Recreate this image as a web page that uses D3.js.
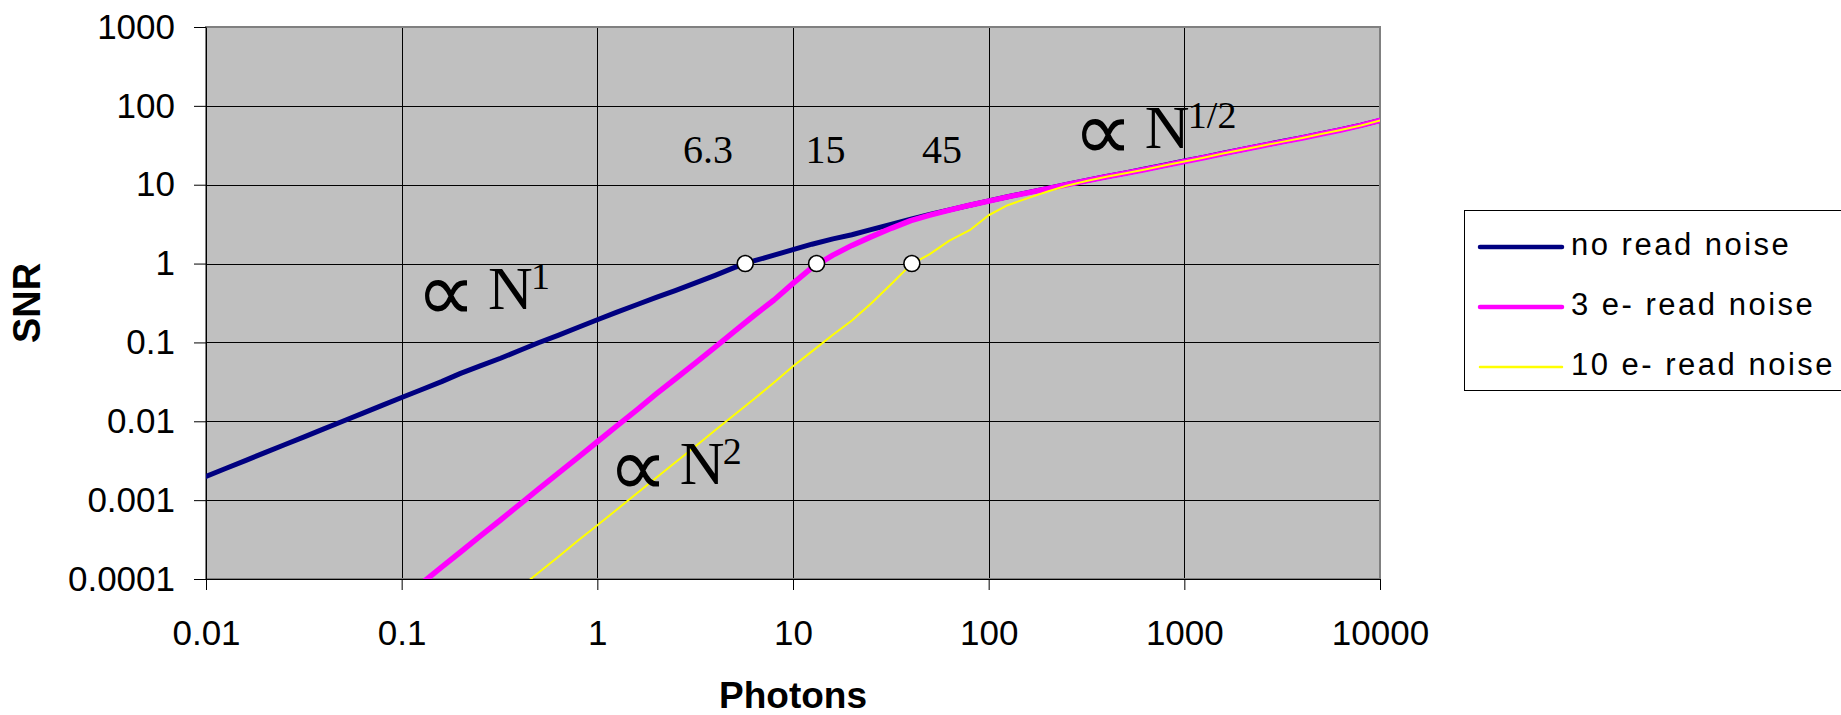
<!DOCTYPE html>
<html><head><meta charset="utf-8">
<script src="https://cdn.jsdelivr.net/npm/d3@7"></script>
<style>body{margin:0;background:#fff} svg{display:block}</style>
</head><body><svg id="c" width="1841" height="715"></svg>
<script>
// ---------- data ----------
const photons = [0.01,0.0125,0.016,0.02,0.025,0.032,0.04,0.05,0.063,0.08,
  0.1,0.125,0.16,0.2,0.25,0.32,0.4,0.5,0.63,0.8,
  1,1.25,1.6,2,2.5,3.2,4,5,6.3,8,
  10,12.5,16,20,25,32,40,50,63,80,
  100,125,160,200,250,320,400,500,630,800,
  1000,1250,1600,2000,2500,3200,4000,5000,6300,8000,10000];
const noReadNoise = [0.0020,0.0025,0.0032,0.0040,0.0050,0.0064,0.0080,0.0100,0.0126,0.0160,
  0.0200,0.0249,0.0318,0.0405,0.050,0.063,0.079,0.099,0.123,0.156,
  0.194,0.240,0.303,0.372,0.455,0.572,0.71,0.89,1.08,1.28,
  1.50,1.76,2.06,2.32,2.70,3.15,3.65,4.2,4.8,5.5,
  6.25,7.05,8.0,9.0,10.1,11.4,12.7,14.1,15.8,17.8,
  20.0,22.2,25.2,28.2,31.5,35.5,39.6,44.5,50,57,65.5];
const readNoise3 = [null,null,null,null,null,null,null,null,null,null,
  0.000055,0.000086,0.000141,0.00022,0.000344,0.00056,0.00088,0.00138,0.00218,0.00352,
  0.0055,0.0086,0.0141,0.0222,0.0344,0.056,0.087,0.137,0.218,0.345,
  0.56,0.89,1.28,1.70,2.18,2.82,3.5,4.12,4.76,5.5,
  6.2,7.0,7.95,8.9,10.0,11.3,12.6,14.0,15.6,17.6,
  19.7,22.0,25.0,28.0,31.2,35.2,39.2,44.0,49.5,56.5,65.5];
const readNoise10 = [null,null,null,null,null,null,null,null,null,null,
  null,null,null,null,null,null,0.000077,0.00012,0.00019,0.00031,
  0.00048,0.00075,0.00123,0.00192,0.0030,0.0049,0.0077,0.012,0.019,0.031,
  0.050,0.077,0.125,0.19,0.31,0.56,0.97,1.32,1.95,2.65,
  4.1,5.5,6.8,8.2,9.7,11.2,12.6,14.0,15.6,17.6,
  19.7,22.0,25.0,28.0,31.2,35.2,39.2,44.0,49.5,56.5,65.5];
const seriesNames = ["no read noise","3 e- read noise","10 e- read noise"];
const seriesColors = ["#000080","#ff00ff","#ffff00"];
const seriesWidths = [5,5.5,2];
const xTicks = [0.01,0.1,1,10,100,1000,10000];
const xTickLabels = ["0.01","0.1","1","10","100","1000","10000"];
const yTicks = [0.0001,0.001,0.01,0.1,1,10,100,1000];
const yTickLabels = ["0.0001","0.001","0.01","0.1","1","10","100","1000"];
const markerX = [5.7,13.2,40.5];
const markerY = [1,1,1];
const crossLabels = ["6.3","15","45"];
const crossLabelX = [2.74,11.6,45.6];
const crossLabelY = 18.7;
const powerLabels = [{exp:"1",x:0.133,y:0.264},{exp:"2",x:1.27,y:0.0016},{exp:"1/2",x:303,y:29}];

// ---------- layout ----------
const W=1841,H=715;
const m={left:206,right:1380,top:27,bottom:579};
const x=d3.scaleLog().domain([0.01,10000]).range([m.left,m.right]);
const y=d3.scaleLog().domain([0.0001,1000]).range([m.bottom,m.top]);
const svg=d3.select('#c');
const SANS='"Liberation Sans", Arial, sans-serif';
const SERIF='"Liberation Serif", "Times New Roman", serif';

svg.append('rect').attr('width',W).attr('height',H).attr('fill','#fff');
svg.append('rect').attr('x',m.left).attr('y',m.top).attr('width',m.right-m.left)
  .attr('height',m.bottom-m.top).attr('fill','#c0c0c0');

// gridlines
const grid=svg.append('g').attr('stroke','#000').attr('stroke-width',1).attr('shape-rendering','crispEdges');
grid.selectAll('.gy').data(yTicks.slice(1,-1)).join('line')
  .attr('x1',m.left).attr('x2',m.right).attr('y1',d=>Math.round(y(d))+0.5).attr('y2',d=>Math.round(y(d))+0.5);
grid.selectAll('.gx').data(xTicks.slice(1,-1)).join('line')
  .attr('y1',m.top).attr('y2',m.bottom).attr('x1',d=>Math.round(x(d))+0.5).attr('x2',d=>Math.round(x(d))+0.5);

// plot border
svg.append('rect').attr('x',m.left).attr('y',m.top).attr('width',m.right-m.left)
  .attr('height',m.bottom-m.top).attr('fill','none').attr('stroke','#808080').attr('stroke-width',2);

// axes
const yAxis=d3.axisLeft(y).tickValues(yTicks).tickFormat((d,i)=>yTickLabels[i]).tickSizeInner(12).tickSizeOuter(0).tickPadding(19);
const gy=svg.append('g').attr('transform',`translate(${m.left},0)`).call(yAxis);
const xAxis=d3.axisBottom(x).tickValues(xTicks).tickFormat((d,i)=>xTickLabels[i]).tickSizeInner(11).tickSizeOuter(0).tickPadding(30);
const gx=svg.append('g').attr('transform',`translate(0,${m.bottom})`).call(xAxis);
[gx,gy].forEach(g=>{
  g.select('.domain').attr('stroke','#000').attr('stroke-width',1);
  g.selectAll('.tick line').attr('stroke','#000').attr('stroke-width',1);
  g.selectAll('text').attr('font-family',SANS).attr('font-size',35).attr('fill','#000');
});

// series
svg.append('clipPath').attr('id','plotclip').append('rect')
  .attr('x',m.left).attr('y',m.top).attr('width',m.right-m.left).attr('height',m.bottom-m.top);
const seriesVals=[noReadNoise,readNoise3,readNoise10];
const line=d3.line().defined(d=>d[1]!=null).x(d=>x(d[0])).y(d=>y(d[1]));
const lg=svg.append('g').attr('clip-path','url(#plotclip)');
seriesVals.forEach((vals,i)=>{
  lg.append('path').datum(photons.map((p,j)=>[p,vals[j]]))
    .attr('d',line).attr('fill','none').attr('stroke',seriesColors[i])
    .attr('stroke-width',seriesWidths[i]).attr('stroke-linejoin','round').attr('stroke-linecap','round');
});

// markers
svg.append('g').selectAll('circle').data(markerX).join('circle')
  .attr('cx',d=>x(d)).attr('cy',(d,i)=>y(markerY[i])).attr('r',8)
  .attr('fill','#fff').attr('stroke','#000').attr('stroke-width',1.6);

// crossing labels
svg.append('g').selectAll('text').data(crossLabels).join('text')
  .attr('x',(d,i)=>x(crossLabelX[i])).attr('y',y(crossLabelY))
  .attr('font-family',SERIF).attr('font-size',40).attr('fill','#000').text(d=>d);

// power-law labels
powerLabels.forEach(p=>{
  const px=x(p.x), py=y(p.y);
  const g=svg.append('g');
  g.append('text').attr('x',px+20).attr('y',py-17).attr('text-anchor','middle')
    .attr('dominant-baseline','central').attr('font-family',SERIF).attr('font-size',84).text('\u221D');
  g.append('text').attr('x',px+62).attr('y',py).attr('font-family',SERIF).attr('font-size',62).text('N');
  g.append('text').attr('x',px+62+43).attr('y',py-20).attr('font-family',SERIF).attr('font-size',38).text(p.exp);
});

// axis titles
svg.append('text').attr('transform','translate(40,303) rotate(-90)').attr('text-anchor','middle')
  .attr('font-family',SANS).attr('font-weight','bold').attr('font-size',38).text('SNR');
svg.append('text').attr('x',(m.left+m.right)/2).attr('y',708).attr('text-anchor','middle')
  .attr('font-family',SANS).attr('font-weight','bold').attr('font-size',37).text('Photons');

// legend
const leg=svg.append('g');
leg.append('rect').attr('x',1464.5).attr('y',210.5).attr('width',400).attr('height',180)
  .attr('fill','#fff').attr('stroke','#000').attr('stroke-width',1);
seriesNames.forEach((n,i)=>{
  const ly=247+60*i;
  leg.append('line').attr('x1',1480).attr('x2',1562).attr('y1',ly).attr('y2',ly)
    .attr('stroke',seriesColors[i]).attr('stroke-width',i<2?4.5:2.5).attr('stroke-linecap','round');
  leg.append('text').attr('x',1571).attr('y',ly+8).attr('font-family',SANS).attr('font-size',31)
    .attr('letter-spacing',2.5).text(n);
});
</script></body></html>
